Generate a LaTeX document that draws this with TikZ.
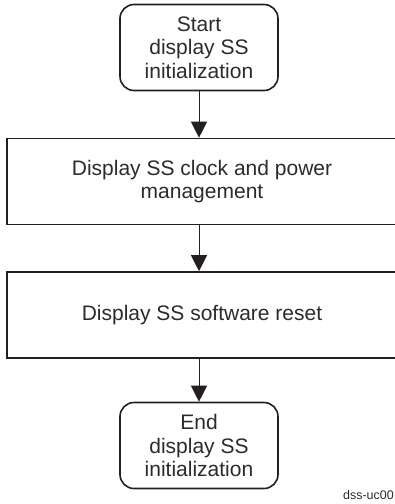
\documentclass[tikz,border=0pt]{standalone}
\usepackage{fontspec}
\setmainfont{Liberation Sans}
\usetikzlibrary{arrows.meta, calc}
\definecolor{DInk}{HTML}{231F20}
\definecolor{DText}{HTML}{2B2B2B}
\tikzset{
    terminal/.style={draw=DInk, line width=1.6pt, rounded corners=14pt,
        minimum width=158pt, minimum height=86pt, inner sep=0pt,
        align=center, text=DText, font=\fontsize{21}{23.5}\selectfont},
    stepbox/.style={draw=DInk, line width=1.6pt,
        minimum width=390pt, minimum height=86pt, inner sep=0pt,
        align=center, text=DText, font=\fontsize{21}{23.5}\selectfont},
    flow/.style={DInk, line width=0.9pt,
        -{Triangle[width=16pt, length=16pt]}},
}

\begin{document}
\begin{tikzpicture}[x=1pt, y=-1pt]
\useasboundingbox (0,0) rectangle (395,504);
\begin{scope}
    \clip (0,0) rectangle (395,504);

    \node[terminal] (start) at (199,47.5) {Start\\display SS\\initialization};
    \node[stepbox] (clkpwr) at (202,181.5) {Display SS clock and power\\management};
    \node[stepbox] (swreset) at (202,315) {Display SS software reset};
    \node[terminal] (end) at (199,445.5) {End\\display SS\\initialization};

    \draw[flow] (start.south) -- (start.south |- clkpwr.north);
    \draw[flow] (clkpwr.south -| start.south) -- (start.south |- swreset.north);
    \draw[flow] (swreset.south -| end.north) -- (end.north);
\end{scope}

\node[anchor=east, text=DText, font=\fontsize{12.5}{14}\selectfont, inner sep=0pt]
    (figid) at (394,495) {dss-uc00};
\end{tikzpicture}
\end{document}
